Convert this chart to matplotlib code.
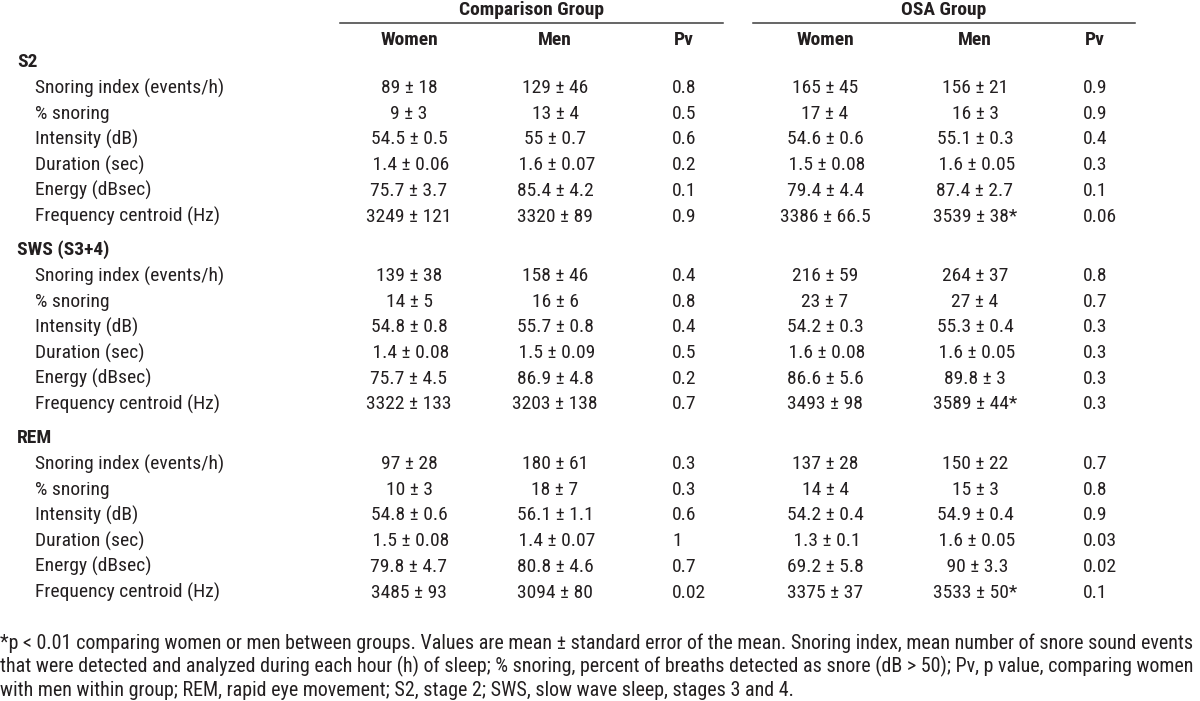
import matplotlib
matplotlib.use('Agg')
import matplotlib.pyplot as plt

stages = ['S2', 'SWS (S3+4)', 'REM']
measures = ['Snoring index (events/h)', '% snoring', 'Intensity (dB)',
            'Duration (sec)', 'Energy (dBsec)', 'Frequency centroid (Hz)']

comp_women = ['89 ± 18', '9 ± 3', '54.5 ± 0.5', ' 1.4 ± 0.06', '75.7 ± 3.7', '3249 ± 121',
              '139 ± 38', '14 ± 5', '54.8 ± 0.8', ' 1.4 ± 0.08', '75.7 ± 4.5', '3322 ± 133',
              '97 ± 28', '10 ± 3', '54.8 ± 0.6', ' 1.5 ± 0.08', '79.8 ± 4.7', '3485 ± 93']
comp_men = ['129 ± 46', '13 ± 4', '55 ± 0.7', ' 1.6 ± 0.07', '85.4 ± 4.2', '3320 ± 89',
            '158 ± 46', '16 ± 6', '55.7 ± 0.8', ' 1.5 ± 0.09', '86.9 ± 4.8', '3203 ± 138',
            '180 ± 61', '18 ± 7', '56.1 ± 1.1', ' 1.4 ± 0.07', '80.8 ± 4.6', '3094 ± 80']
comp_pv = ['0.8', '0.5', '0.6', '0.2', '0.1', '0.9',
           '0.4', '0.8', '0.4', '0.5', '0.2', '0.7',
           '0.3', '0.3', '0.6', '1', '0.7', '0.02']
osa_women = ['165 ± 45', '17 ± 4', '54.6 ± 0.6', ' 1.5 ± 0.08', '79.4 ± 4.4', '3386 ± 66.5',
             '216 ± 59', '23 ± 7', '54.2 ± 0.3', ' 1.6 ± 0.08', '86.6 ± 5.6', '3493 ± 98',
             '137 ± 28', '14 ± 4', '54.2 ± 0.4', ' 1.3 ± 0.1', '69.2 ± 5.8', '3375 ± 37']
osa_men = ['156 ± 21', '16 ± 3', '55.1 ± 0.3', ' 1.6 ± 0.05', '87.4 ± 2.7', '3539 ± 38*',
           '264 ± 37', '27 ± 4', '55.3 ± 0.4', ' 1.6 ± 0.05', '89.8 ± 3', '3589 ± 44*',
           '150 ± 22', '15 ± 3', '54.9 ± 0.4', ' 1.6 ± 0.05', ' 90 ± 3.3', '3533 ± 50*']
osa_pv = ['0.9', '0.9', '0.4', '0.3', '0.1', '0.06',
          '0.8', '0.7', '0.3', '0.3', '0.3', '0.3',
          '0.7', '0.8', '0.9', '0.03', '0.02', '0.1']

groups = ['Comparison Group', 'OSA Group']
subheads = ['Women', 'Men', 'Pv']

footnote = ['*p < 0.01 comparing women or men between groups. Values are mean ± standard error of the mean. Snoring index, mean number of snore sound events',
            'that were detected and analyzed during each hour (h) of sleep; % snoring, percent of breaths detected as snore (dB > 50); Pv, p value, comparing women',
            'with men within group; REM, rapid eye movement; S2, stage 2; SWS, slow wave sleep, stages 3 and 4.']

W, H = 1200, 701
fig = plt.figure(figsize=(W / 100, H / 100), dpi=100)
ax = fig.add_axes([0, 0, 1, 1])
ax.set_xlim(0, W)
ax.set_ylim(H, 0)
ax.axis('off')

fam = ['Roboto Condensed', 'Liberation Sans Narrow', 'PT Sans Narrow',
       'Archivo Narrow', 'DejaVu Sans']
col = '#231f20'
fs = 14

# group headers + rules
grp_x = [(340, 723), (753, 1135)]
for g, (x0, x1) in zip(groups, grp_x):
    ax.text((x0 + x1) / 2, 10, g, ha='center', va='center', fontsize=fs,
            fontweight='bold', family=fam, color=col)
    ax.plot([x0, x1], [23, 23], color='#3c3c3c', lw=1.1)

cols = [(comp_women, 409, 'center'), (comp_men, 555, 'center'), (comp_pv, 672, 'left'),
        (osa_women, 825, 'center'), (osa_men, 975, 'center'), (osa_pv, 1083, 'left')]
for i, (vals, x, ha) in enumerate(cols):
    ax.text(x + (2 if ha == 'left' else 0), 40, subheads[i % 3], ha=ha, va='center',
            fontsize=fs, fontweight='bold', family=fam, color=col)

y = 62
step = 25.7
k = 0
for s in stages:
    ax.text(17, y, s, ha='left', va='center', fontsize=fs, fontweight='bold',
            family=fam, color=col)
    y += 26
    for m in measures:
        ax.text(35, y, m, ha='left', va='center', fontsize=fs, family=fam, color=col)
        for vals, x, ha in cols:
            ax.text(x, y, vals[k], ha=ha, va='center', fontsize=fs, family=fam, color=col)
        k += 1
        y += step
    y += 33.5 - step

for i, line in enumerate(footnote):
    ax.text(0, 643 + i * 23.5, line, ha='left', va='center', fontsize=14.4,
            family=fam, color=col)

fig.savefig('out.png', dpi=100, facecolor='white')
